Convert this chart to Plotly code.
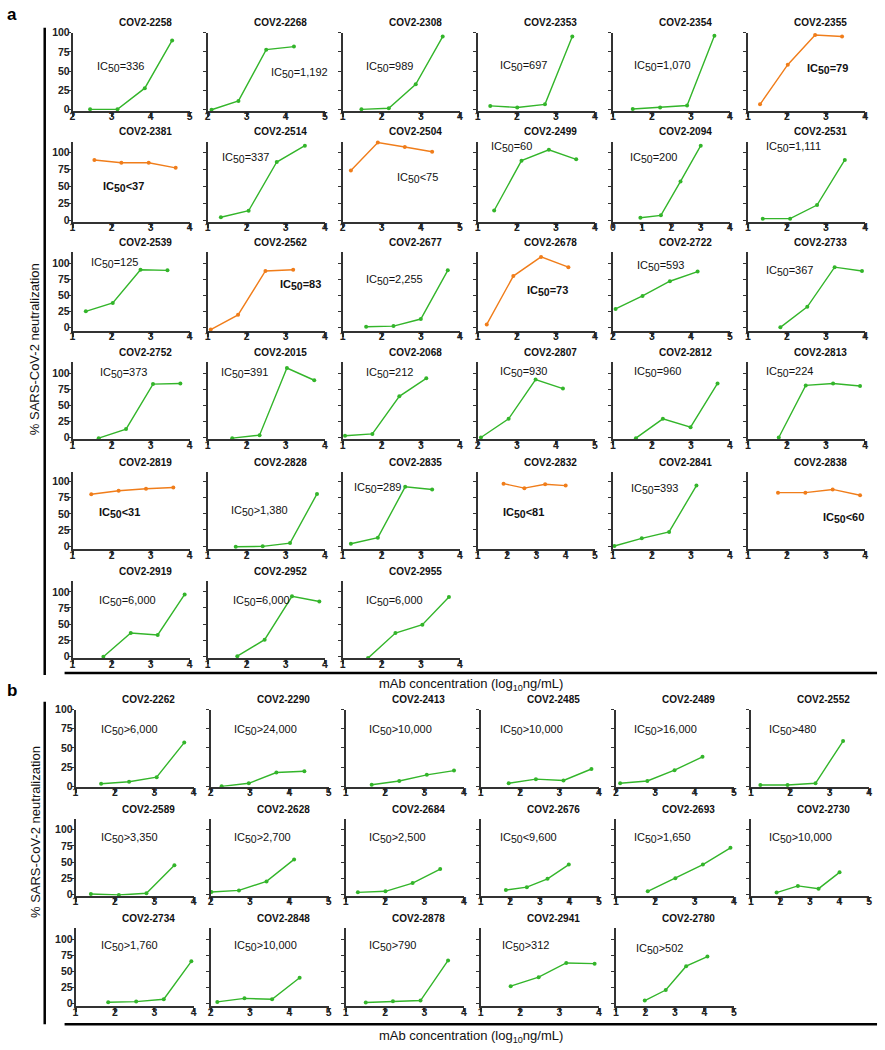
import plotly.graph_objects as go

W, H = 885, 1050

# ---------------- Panel a data ----------------
names_a = ["COV2-2258", "COV2-2268", "COV2-2308", "COV2-2353", "COV2-2354", "COV2-2355",
           "COV2-2381", "COV2-2514", "COV2-2504", "COV2-2499", "COV2-2094", "COV2-2531",
           "COV2-2539", "COV2-2562", "COV2-2677", "COV2-2678", "COV2-2722", "COV2-2733",
           "COV2-2752", "COV2-2015", "COV2-2068", "COV2-2807", "COV2-2812", "COV2-2813",
           "COV2-2819", "COV2-2828", "COV2-2835", "COV2-2832", "COV2-2841", "COV2-2838",
           "COV2-2919", "COV2-2952", "COV2-2955"]
x_a = [[2.45, 3.15, 3.85, 4.55], [2.1, 2.79, 3.5, 4.21], [1.48, 2.18, 2.87, 3.56],
       [1.32, 2.01, 2.72, 3.42], [1.51, 2.21, 2.9, 3.6], [1.31, 2.02, 2.72, 3.41],
       [1.56, 2.25, 2.95, 3.64], [1.34, 2.05, 2.77, 3.49], [2.21, 2.9, 3.59, 4.29],
       [1.42, 2.12, 2.82, 3.52], [0.94, 1.64, 2.31, 3.0], [1.38, 2.08, 2.77, 3.48],
       [1.34, 2.03, 2.74, 3.43], [1.08, 1.78, 2.48, 3.19], [1.6, 2.3, 3.0, 3.69],
       [1.23, 1.91, 2.62, 3.32], [2.07, 2.76, 3.46, 4.17], [1.83, 2.52, 3.22, 3.92],
       [1.67, 2.37, 3.06, 3.76], [1.63, 2.33, 3.03, 3.73], [1.06, 1.76, 2.45, 3.14],
       [2.08, 2.79, 3.48, 4.18], [1.59, 2.28, 2.99, 3.68], [1.79, 2.48, 3.18, 3.87],
       [1.48, 2.18, 2.88, 3.58], [1.72, 2.41, 3.11, 3.8], [1.21, 1.9, 2.6, 3.29],
       [1.88, 2.59, 3.3, 4.0], [1.04, 1.74, 2.44, 3.14], [1.77, 2.47, 3.17, 3.87],
       [1.79, 2.49, 3.18, 3.87], [1.76, 2.46, 3.16, 3.86], [1.65, 2.35, 3.04, 3.72]]
y_a = [[0.5, 0.5, 28, 90], [0, 11.5, 78, 82], [0.5, 2, 33, 95],
       [5, 3, 7, 95], [1, 3, 5.5, 96], [7, 58.5, 97, 95],
       [89, 85, 85, 77.5], [5, 14.6, 86, 110], [73.7, 114.6, 108, 101],
       [15, 88, 104, 90], [4.4, 7.8, 57.5, 110], [3, 3, 23, 89],
       [25, 38, 90, 89], [-3.5, 19.5, 88, 90], [1, 2, 13, 89],
       [4.6, 80, 110, 94], [28.7, 49, 72, 87], [0, 32, 94, 88],
       [-1, 13, 83, 84], [-1, 3.6, 108, 89], [2.6, 5.6, 64, 92],
       [0, 29, 90, 76], [-1, 29, 16, 84], [0, 81, 84, 80],
       [80.4, 86, 89, 91], [-1, -0.5, 4.6, 81], [3.6, 13, 92, 88],
       [97, 90, 96, 94], [0, 12, 22, 94], [83, 83, 88, 79],
       [-1, 36, 33, 96], [0, 25.6, 93, 85], [-3, 36, 49, 92]]
ic50_a = ["=336", "=1,192", "=989", "=697", "=1,070", "=79",
          "<37", "=337", "<75", "=60", "=200", "=1,111",
          "=125", "=83", "=2,255", "=73", "=593", "=367",
          "=373", "=391", "=212", "=930", "=960", "=224",
          "<31", ">1,380", "=289", "<81", "=393", "<60",
          "=6,000", "=6,000", "=6,000"]
potent_a = [False, False, False, False, False, True,
            True, False, True, False, False, False,
            False, True, False, True, False, False,
            False, False, False, False, False, False,
            True, False, False, True, False, True,
            False, False, False]
bold_a = [False, False, False, False, False, True,
          True, False, False, False, False, False,
          False, True, False, True, False, False,
          False, False, False, False, False, False,
          True, False, False, True, False, True,
          False, False, False]

# ---------------- Panel b data ----------------
names_b = ["COV2-2262", "COV2-2290", "COV2-2413", "COV2-2485", "COV2-2489", "COV2-2552",
           "COV2-2589", "COV2-2628", "COV2-2684", "COV2-2676", "COV2-2693", "COV2-2730",
           "COV2-2734", "COV2-2848", "COV2-2878", "COV2-2941", "COV2-2780"]
x_b = [[1.65, 2.36, 3.06, 3.76], [2.28, 2.97, 3.67, 4.38], [1.66, 2.36, 3.06, 3.75],
       [1.71, 2.4, 3.1, 3.81], [2.11, 2.8, 3.49, 4.2], [1.24, 1.93, 2.64, 3.34],
       [1.39, 2.1, 2.8, 3.51], [2.02, 2.72, 3.42, 4.12], [1.31, 2.01, 2.7, 3.4],
       [1.85, 2.56, 3.26, 3.98], [1.81, 2.51, 3.21, 3.91], [1.87, 2.59, 3.29, 4.0],
       [1.83, 2.54, 3.24, 3.94], [2.17, 2.86, 3.56, 4.26], [1.51, 2.2, 2.9, 3.6],
       [1.76, 2.47, 3.17, 3.89], [1.98, 2.69, 3.38, 4.1]]
y_b = [[3.4, 6, 12, 57], [0, 4, 18, 19.6], [2, 7, 15, 20.5],
       [4, 9.4, 7.7, 22.6], [4, 7, 21, 38.5], [1.7, 1.7, 4, 59],
       [0.5, -1, 1.5, 45], [3.6, 6, 20, 54], [3, 4.6, 17.4, 39],
       [6.7, 11, 24, 46], [4.6, 25, 46, 72], [2.6, 13, 8.7, 34],
       [2, 3, 6.6, 65.5], [2.5, 8, 6.6, 40], [1.5, 3.6, 4.6, 67],
       [27, 41, 63, 62], [4.6, 21, 58, 73]]
ic50_b = [">6,000", ">24,000", ">10,000", ">10,000", ">16,000", ">480",
          ">3,350", ">2,700", ">2,500", "<9,600", ">1,650", ">10,000",
          ">1,760", ">10,000", ">790", ">312", ">502"]

# x-axis ranges (log10 ng/mL) per panel
xrange_a = [[2, 5], [2, 5], [1, 4], [1, 4], [1, 4], [1, 4],
            [1, 4], [1, 4], [2, 5], [1, 4], [0, 4], [1, 4],
            [1, 4], [1, 4], [1, 4], [1, 4], [2, 5], [1, 4],
            [1, 4], [1, 4], [1, 4], [2, 5], [1, 4], [1, 4],
            [1, 4], [1, 4], [1, 4], [1, 5], [1, 4], [1, 4],
            [1, 4], [1, 4], [1, 4]]
xrange_b = [[1, 4], [2, 5], [1, 4], [1, 4], [2, 5], [1, 4],
            [1, 4], [2, 5], [1, 4], [1, 5], [1, 4], [1, 5],
            [1, 4], [2, 5], [1, 4], [1, 4], [1, 5]]
ytickvals = [0, 25, 50, 75, 100]

# ---------------- layout geometry (pixels) ----------------
cols_a = [70, 206, 342, 478, 614, 750]
w_a = 118
rows_a = [(27, 106), (137, 218), (249, 328), (360, 438), (471, 549), (581, 659)]
yr_a = [[-1.5, 100], [-1.5, 116], [-5, 117], [-3, 117], [-5, 115], [-3, 117]]
cols_b = [73, 209, 345, 481, 617, 753]
w_b = 119
rows_b = [(711, 789), (822, 899), (932, 1011)]
yr_b = [[-0.5, 100], [-2, 116], [-4.5, 117]]

lblpos_a = [(0.19, 0.56), (0.52, 0.48), (0.18, 0.56), (0.17, 0.57), (0.16, 0.57), (0.49, 0.54),
            (0.24, 0.43), (0.11, 0.80), (0.45, 0.55), (0.10, 0.93), (0.13, 0.80), (0.14, 0.93),
            (0.14, 0.87), (0.60, 0.58), (0.18, 0.65), (0.40, 0.51), (0.19, 0.82), (0.14, 0.76),
            (0.22, 0.86), (0.10, 0.86), (0.18, 0.86), (0.17, 0.87), (0.16, 0.87), (0.14, 0.87),
            (0.21, 0.47), (0.18, 0.49), (0.08, 0.80), (0.20, 0.47), (0.14, 0.78), (0.62, 0.41),
            (0.21, 0.74), (0.20, 0.74), (0.18, 0.74)]
lblpos_b = [(0.20, 0.73), (0.18, 0.73), (0.18, 0.73), (0.15, 0.73), (0.14, 0.73), (0.14, 0.73),
            (0.20, 0.75), (0.18, 0.75), (0.18, 0.75), (0.15, 0.75), (0.14, 0.75), (0.14, 0.75),
            (0.20, 0.77), (0.18, 0.77), (0.18, 0.77), (0.16, 0.77), (0.15, 0.74)]

GREEN = "#33b52a"
ORANGE = "#f07d1a"
AX = "#333333"
FONT = "Liberation Sans, Arial, sans-serif"

fig = go.Figure()
annotations = []
shapes = []
layout = {}

panels = []
for i in range(len(names_a)):
    r, c = divmod(i, 6)
    panels.append(dict(name=names_a[i], x=x_a[i], y=y_a[i], ic=ic50_a[i],
                       orange=potent_a[i], bold=bold_a[i], xr=xrange_a[i],
                       left=cols_a[c], w=w_a, top=rows_a[r][0], bot=rows_a[r][1],
                       yr=yr_a[r], col=c, pos=lblpos_a[i]))
for i in range(len(names_b)):
    r, c = divmod(i, 6)
    panels.append(dict(name=names_b[i], x=x_b[i], y=y_b[i], ic=ic50_b[i],
                       orange=False, bold=False, xr=xrange_b[i],
                       left=cols_b[c], w=w_b, top=rows_b[r][0], bot=rows_b[r][1],
                       yr=yr_b[r], col=c, pos=lblpos_b[i]))

for k, p in enumerate(panels, start=1):
    xs = "" if k == 1 else str(k)
    color = ORANGE if p["orange"] else GREEN
    fig.add_trace(go.Scatter(x=p["x"], y=p["y"], mode="lines+markers",
                             line=dict(color=color, width=1.4),
                             marker=dict(color=color, size=4),
                             xaxis="x" + xs, yaxis="y" + xs, showlegend=False,
                             cliponaxis=False))
    layout["xaxis" + xs] = dict(
        domain=[p["left"] / W, (p["left"] + p["w"]) / W], anchor="y" + xs,
        range=p["xr"], dtick=1, tick0=0, showgrid=False, zeroline=False,
        showline=True, linewidth=2, linecolor=AX, ticks="outside", ticklen=4,
        tickwidth=1.5, tickcolor=AX, ticklabelstandoff=-9,
        tickfont=dict(family=FONT, size=10.5, color="#222", weight="bold"))
    layout["yaxis" + xs] = dict(
        domain=[1 - p["bot"] / H, 1 - p["top"] / H], anchor="x" + xs,
        range=p["yr"], tickvals=ytickvals, showticklabels=(p["col"] == 0),
        showgrid=False, zeroline=False, showline=True, linewidth=1.5,
        linecolor=AX, ticks="outside", ticklen=3, tickwidth=1.2, tickcolor=AX,
        ticklabelstandoff=-4,
        tickfont=dict(family=FONT, size=10.5, color="#222", weight="bold"))
    # title
    annotations.append(dict(x=(p["left"] + p["w"] / 2 + 14) / W, y=1 - (p["top"] - 10) / H,
                            xref="paper", yref="paper", text="<b>%s</b>" % p["name"],
                            showarrow=False, xanchor="center", yanchor="middle",
                            font=dict(family=FONT, size=10, color="#111")))
    txt = ("IC<sub><span style='font-size:10.5px'>50</span></sub>"
           + p["ic"].replace("<", "&lt;").replace(">", "&gt;"))
    if p["bold"]:
        txt = "<b>" + txt + "</b>"
    annotations.append(dict(x=p["pos"][0], y=p["pos"][1], xref="x%s domain" % xs,
                            yref="y%s domain" % xs, text=txt, showarrow=False,
                            xanchor="left", yanchor="middle",
                            font=dict(family=FONT, size=11, color="#111")))

# panel letters, axis titles, bracket lines
for letter, ly in (("a", 9), ("b", 692)):
    annotations.append(dict(x=2 / W, y=1 - ly / H, xref="paper", yref="paper",
                            text="<b>%s</b>" % letter, showarrow=False,
                            xanchor="left", yanchor="middle",
                            font=dict(family=FONT, size=17, color="#000")))
for cy in (347, 835):
    annotations.append(dict(x=32 / W, y=1 - cy / H, xref="paper", yref="paper",
                            text="% SARS-CoV-2 neutralization", textangle=-90,
                            showarrow=False, xanchor="center", yanchor="middle",
                            font=dict(family=FONT, size=13, color="#111")))
for ly in (686, 1041):
    annotations.append(dict(x=471 / W, y=1 - ly / H, xref="paper", yref="paper",
                            text="mAb concentration (log<sub>10</sub>ng/mL)",
                            showarrow=False, xanchor="center", yanchor="middle",
                            font=dict(family=FONT, size=13, color="#111")))
for (y0, y1, hy) in ((22, 676, 674), (703, 1029, 1029)):
    shapes.append(dict(type="line", xref="paper", yref="paper",
                       x0=42 / W, x1=42 / W, y0=1 - y0 / H, y1=1 - y1 / H,
                       line=dict(color="#000", width=2.5)))
    shapes.append(dict(type="line", xref="paper", yref="paper",
                       x0=62 / W, x1=880 / W, y0=1 - hy / H, y1=1 - hy / H,
                       line=dict(color="#000", width=2.5)))

fig.update_layout(width=W, height=H, margin=dict(l=0, r=0, t=0, b=0),
                  paper_bgcolor="white", plot_bgcolor="white",
                  annotations=annotations, shapes=shapes,
                  font=dict(family=FONT), **layout)
fig.write_html("out.html", config={"displayModeBar": False},
               post_script="document.body.style.margin='0';"
                           "document.body.style.padding='0';"
                           "document.body.style.overflow='hidden';")
